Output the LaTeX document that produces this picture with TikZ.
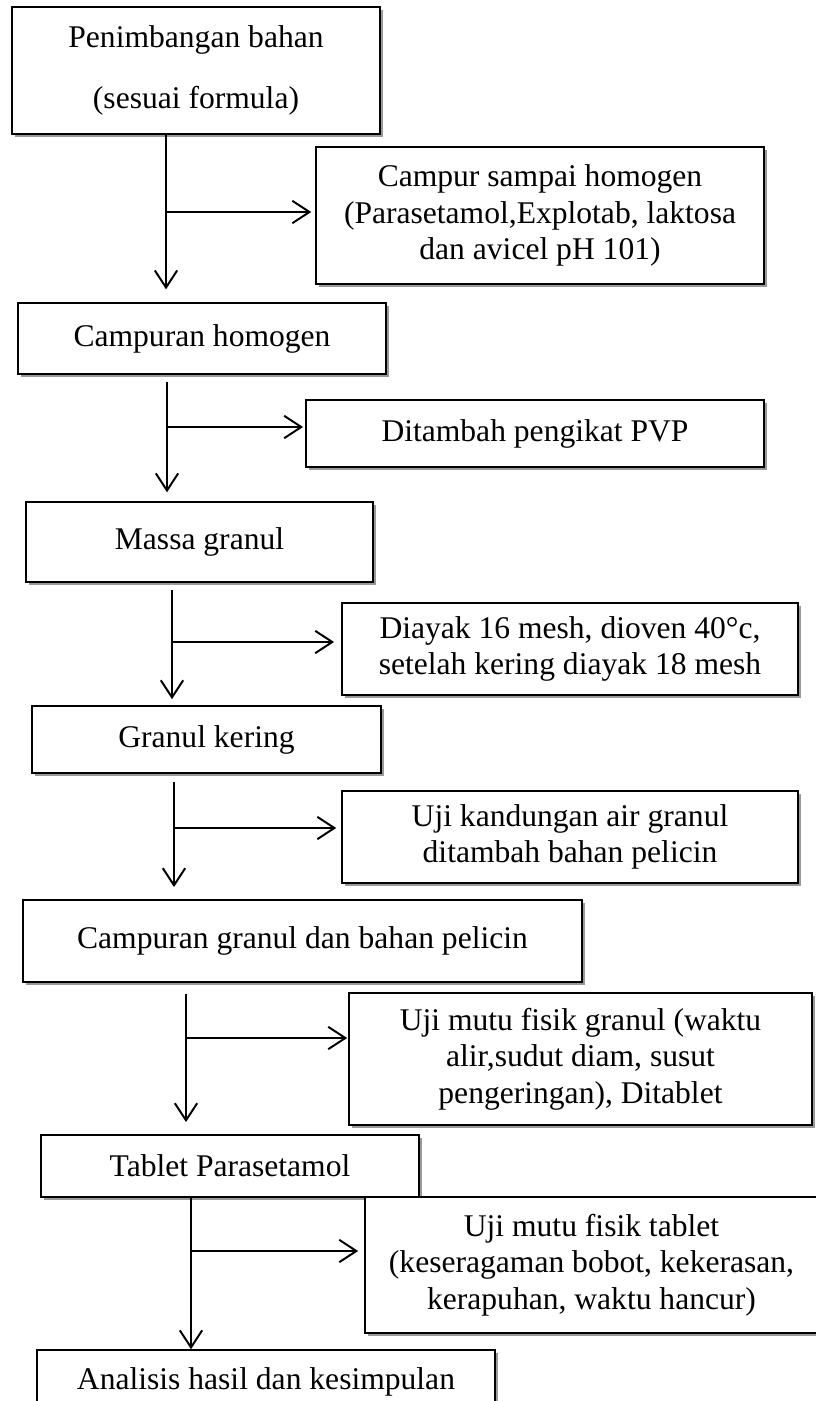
\documentclass[tikz,border=0pt]{standalone}
\usepackage{fontspec}
\setmainfont{Liberation Serif}
\usepackage{tikz}
\usetikzlibrary{arrows.meta,shadows}

\begin{document}
\begin{tikzpicture}[x=0.38pt, y=-0.38pt,
    box/.style={draw, line width=0.6pt, fill=white, align=center, inner sep=0pt,
        font=\fontsize{12}{13.8}\selectfont,
        drop shadow={shadow xshift=1pt, shadow yshift=-1pt, fill=black!40, opacity=1}},
    boxsize/.style 2 args={minimum width=#1*0.38pt, minimum height=#2*0.38pt},
    arr/.style={-{Straight Barb[length=6.5pt,width=8.5pt]}, line width=0.75pt}]
                    \useasboundingbox (0,0) rectangle (815,1401);
                    \node[box, boxsize={368}{127}] (b1) at (196,70.5) {Penimbangan bahan\\[9.5pt](sesuai formula)};
                    \node[box, boxsize={448}{137}] (b2) at (540,215.5) {Campur sampai homogen\\(Parasetamol,Explotab, laktosa\\dan avicel pH 101)};
                    \node[box, boxsize={368}{71}] (b3) at (202,338.5) {Campuran homogen};
                    \node[box, boxsize={458}{67}] (b4) at (535,433.5) {Ditambah pengikat PVP};
                    \node[box, boxsize={347}{80}] (b5) at (199.5,542) {Massa granul};
                    \node[box, boxsize={456}{92}] (b6) at (570,649) {Diayak 16 mesh, dioven 40°c,\\setelah kering diayak 18 mesh};
                    \node[box, boxsize={349}{67}] (b7) at (206.5,739.5) {Granul kering};
                    \node[box, boxsize={456}{92}] (b8) at (570,837) {Uji kandungan air granul\\ditambah bahan pelicin};
                    \node[box, boxsize={559}{82}] (b9) at (302.5,941) {Campuran granul dan bahan pelicin};
                    \node[box, boxsize={463}{132}] (b10) at (580.5,1059) {Uji mutu fisik granul (waktu\\alir,sudut diam, susut\\pengeringan), Ditablet};
                    \node[box, boxsize={378}{62}] (b11) at (230,1166) {Tablet Parasetamol};
                    \node[box, boxsize={453}{136}] (b12) at (591.5,1265) {Uji mutu fisik tablet\\(keseragaman bobot, kekerasan,\\kerapuhan, waktu hancur)};
                    \node[box, boxsize={458}{64}] (b13) at (266,1382) {Analisis hasil dan kesimpulan};
                    \coordinate (k1) at (166,212);
                    \coordinate (k2) at (167,427);
                    \coordinate (k3) at (172,642);
                    \coordinate (k4) at (174,828);
                    \coordinate (k5) at (186,1038);
                    \coordinate (k6) at (191,1251);
                    \draw[arr, shorten >=4.9pt] (b1.south -| k1) -- (b3.north -| k1);
                    \draw[arr, shorten <=2.7pt, shorten >=3.4pt] (b3.south -| k2) -- (b5.north -| k2);
                    \draw[arr, shorten <=2.7pt, shorten >=2.3pt] (b5.south -| k3) -- (b7.north -| k3);
                    \draw[arr, shorten <=3pt, shorten >=4.6pt] (b7.south -| k4) -- (b9.north -| k4);
                    \draw[arr, shorten <=4.2pt, shorten >=4.6pt] (b9.south -| k5) -- (b11.north -| k5);
                    \draw[arr] (b11.south -| k6) -- (b13.north -| k6);
                    \draw[arr, shorten >=1.5pt] (k1) -- (k1 -| b2.west);
                    \draw[arr, shorten >=0.8pt] (k2) -- (k2 -| b4.west);
                    \draw[arr, shorten >=2.7pt] (k3) -- (k3 -| b6.west);
                    \draw[arr, shorten >=1.9pt] (k4) -- (k4 -| b8.west);
                    \draw[arr, shorten >=0.4pt] (k5) -- (k5 -| b10.west);
                    \draw[arr, shorten >=2.3pt] (k6) -- (k6 -| b12.west);
                \end{tikzpicture}
\end{document}
